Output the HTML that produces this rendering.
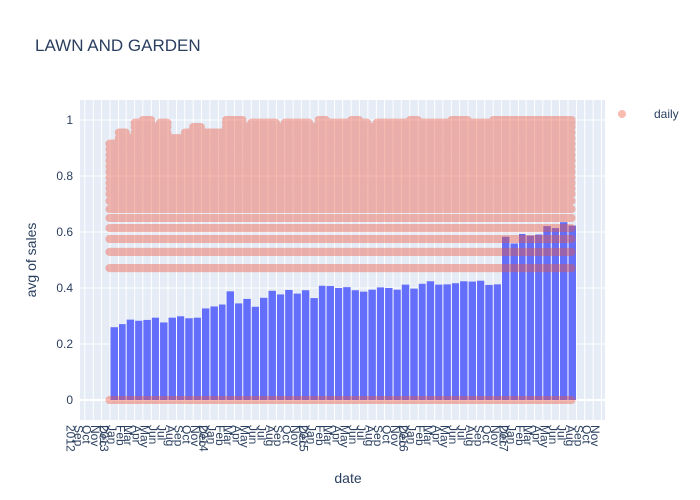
<!DOCTYPE html>
<html><head><meta charset="utf-8"><style>
body{margin:0;background:#fff}
svg{display:block;font-family:"Liberation Sans",sans-serif}
</style></head><body>
<svg id="chart" width="700" height="500">
<rect x="0" y="0" width="700" height="500" fill="#fff"/>
<text x="35" y="51" font-size="17" fill="#2a3f5f">LAWN AND GARDEN</text>
<rect x="80" y="100" width="525" height="320" fill="#e5ecf6"/>
<g id="grid"></g>
<g id="bars"></g>
<g id="dots" opacity="0.4"></g>
<g id="yticks"></g>
<g id="xticks"></g>
<text x="348" y="483" font-size="14" fill="#2a3f5f" text-anchor="middle">date</text>
<text transform="translate(36,260) rotate(-90)" font-size="14" fill="#2a3f5f" text-anchor="middle">avg of sales</text>
<g>
<circle cx="622" cy="114" r="4" fill="#ef553b" opacity="0.4"/>
<text x="654" y="118" font-size="12" fill="#2a3f5f">daily</text>
</g>
</svg>
<script>
const barStart = [2013, 0];
const barValues = [0.260,0.271,0.287,0.283,0.286,0.294,0.277,0.294,0.299,0.292,0.294,0.327,0.334,0.341,0.388,0.345,0.361,0.333,0.365,0.390,0.377,0.393,0.380,0.392,0.364,0.408,0.407,0.400,0.403,0.392,0.387,0.394,0.402,0.400,0.394,0.412,0.398,0.415,0.424,0.412,0.413,0.417,0.424,0.423,0.426,0.411,0.413,0.583,0.559,0.593,0.587,0.591,0.621,0.614,0.635,0.623];
const dailyLevels = [0,0.471,0.529,0.575,0.614,0.65,0.682,0.711,0.736,0.755,0.775,0.795,0.815,0.835,0.855,0.875,0.895,0.915,0.935,0.955,0.975,0.99,1.0];
const dailyMonthlyMax = [0.93,0.97,0.95,0.99,1.0,0.98,0.99,0.95,0.94,0.97,0.98,0.96,0.97,0.97,1.0,1.0,0.98,0.99,0.99,0.99,0.98,0.99,0.99,0.99,0.98,1.0,0.99,0.99,0.99,1.0,0.99,0.98,0.99,0.99,0.99,0.99,1.0,0.99,0.99,0.99,0.99,1.0,1.0,0.99,0.99,0.99,1.0,1.0,1.0,1.0,1.0,1.0,1.0,1.0,1.0,1.0];
const yTicks = [0,0.2,0.4,0.6,0.8,1];
const monthNames = ["Jan","Feb","Mar","Apr","May","Jun","Jul","Aug","Sep","Oct","Nov","Dec"];

const NS="http://www.w3.org/2000/svg";
const DAY=8.333/30.44;
const base=Date.UTC(2013,0,1);
function xDate(ms){return 110+(ms-base)/86400000*DAY;}
function xMonth(y,m){return xDate(Date.UTC(y,m,1));}
function yv(v){return 400-280*v;}
function mk(tag,attrs,parent){const e=document.createElementNS(NS,tag);for(const k in attrs)e.setAttribute(k,attrs[k]);document.getElementById(parent).appendChild(e);return e;}

yTicks.forEach(t=>{
  const l=mk('line',{x1:80,x2:605,y1:yv(t),y2:yv(t),stroke:'#fff','stroke-width':t===0?2:1},'grid');
  
  
  const tx=mk('text',{x:73,y:yv(t)+4,'font-size':12,fill:'#2a3f5f','text-anchor':'end'},'yticks');
  tx.textContent=String(t);
  
  
});
for(let i=-4;i<=59;i++){
  const y=2013+Math.floor(i/12), m=((i%12)+12)%12;
  const x=xMonth(y,m);
  if(x>=80&&x<=605){
    const l=mk('line',{x1:x,x2:x,y1:100,y2:420,stroke:'#fff','stroke-width':1},'grid');
    
    
  }
  if(i>58) continue;
  const lx=x+2;
  const t=mk('text',{transform:`translate(${lx},425) rotate(90)`,'font-size':12,fill:'#2a3f5f'},'xticks');
  
  
  t.textContent=monthNames[m];
  t.setAttribute('dy','0.35em');
  if(m===0||i===-4){
    const t2=mk('text',{transform:`translate(${lx-8},425) rotate(90)`,'font-size':12,fill:'#2a3f5f',dy:'0.35em'},'xticks');
    t2.textContent=String(y);
    
    
  }
}
barValues.forEach((v,i)=>{
  const y0=barStart[0]+Math.floor((barStart[1]+i)/12), m=(barStart[1]+i)%12;
  const x1=xMonth(y0,m), x2=xMonth(y0,m+1);
  const r=mk('rect',{x:x1+0.5,y:yv(v),width:x2-x1-1,height:yv(0)-yv(v),fill:'#636efa'},'bars');
  
  
});
const endMs=Date.UTC(2017,7,15);
for(let ms=base-2*86400000; ms<=endMs; ms+=2*86400000){
  const d=new Date(ms);
  let mi=(d.getUTCFullYear()-2013)*12+d.getUTCMonth();
  mi=Math.max(0,Math.min(dailyMonthlyMax.length-1,mi));
  const mx=dailyMonthlyMax[mi];
  const x=xDate(ms);
  dailyLevels.forEach(v=>{
    if(v<=mx){
      const c=mk('circle',{cx:x,cy:yv(v),r:4,fill:'#ef553b'},'dots');
      
      
    }
  });
}
</script>
</body></html>
